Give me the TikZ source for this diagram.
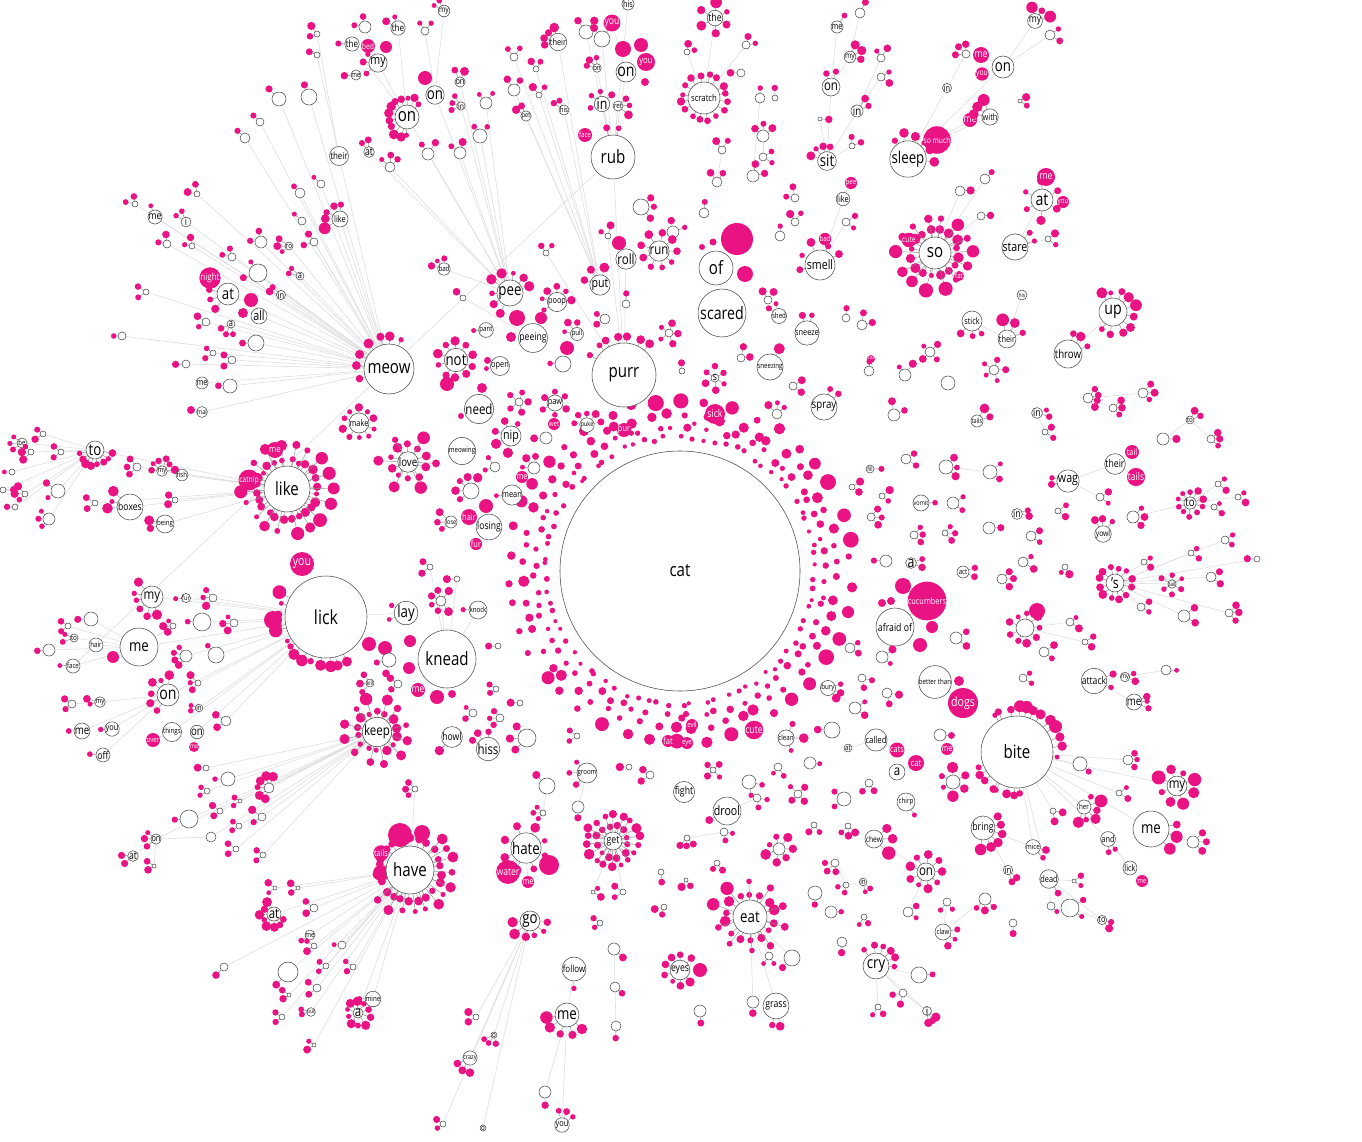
\documentclass[tikz,border=0pt]{standalone}
\usepackage{fontspec}
\setmainfont[FakeStretch=0.82]{Open Sans}
\definecolor{mag}{HTML}{EA1384}
\pgfdeclarelayer{bg}
\pgfsetlayers{bg,main}
\tikzset{
  w/.style={circle,draw=black!70,fill=white,line width=0.55pt,inner sep=0pt,text=black},
  mg/.style={circle,fill=mag,inner sep=0pt,text=white},
  ln/.style={draw=black!13,line width=0.6pt},
  sp/.style={draw=black!45,line width=0.45pt},
}
\newcommand\clus[7]{\ifnum#4>0 \foreach \k in {1,...,#4}{%
  \pgfmathsetmacro\qr{2.4+rnd*(#5-2.4)}%
  \pgfmathsetmacro\qa{#6+((\k-0.5)/#4-0.5)*#7+rnd*8-4}%
  \pgfmathsetmacro\qd{#3+\qr+1+rnd*3}%
  \draw[sp] (#1,#2) -- ++(\qa:\qd);%
  \fill[mag] (#1,#2) ++(\qa:\qd) circle (\qr);}\fi}
\newcommand\fsz[1]{\pgfmathsetmacro\qf{(#1<=7.5)?(#1*1.5):((#1<12)?(#1*1.18):(#1*1.08))}}
\newcommand\W[6]{\fsz{#6}\node[w,minimum size=#4*2pt,font=\fontsize{\qf}{\qf}\selectfont] (#1) at (#2,#3) {#5};}
\newcommand\M[6]{\fsz{#6}\node[mg,minimum size=#4*2pt,font=\fontsize{\qf}{\qf}\selectfont] (#1) at (#2,#3) {#5};}
\newcommand\D[3]{\fill[mag] (#1,#2) circle (#3);}
\newcommand\GG[7]{\clus{#1}{#2}{#3}{#4}{#5}{#6}{#7}\node[w,minimum size=#3*2pt] (g#1-#2) at (#1,#2) {};}
\newcommand\G[5]{\GG{#1}{#2}{#3}{#4}{4.2}{#5}{140}}
\begin{document}
\begin{tikzpicture}[x=1pt,y=-1pt]
\useasboundingbox (0,0) rectangle (1362,1142);
\pgfmathsetseed{11}
% ---------- ring around cat
\foreach \R/\s/\n/\j/\v in {132/2.5/74/0/0.4, 143/3.2/66/2/0.6, 155/4.2/56/1/0.7, 169/5.6/42/3/0.9}{
  \foreach \k in {1,...,\n}{
    \pgfmathsetmacro\qa{\k/\n*360+\j+rnd*4}
    \pgfmathsetmacro\qr{\s*(1-\v/2+\v*rnd)}
    \pgfmathsetmacro\qd{\R+rnd*5}
    \fill[mag] (680,571) ++(\qa:\qd) circle (\qr);}}
\W{cat}{680}{571}{120}{cat}{17}
\M{sick}{715}{414}{10}{sick}{9}
\M{pur}{624}{430}{7}{pur}{6}
\M{evil}{692}{725}{6}{evil}{5}
\M{eye}{687}{743}{6}{eye}{5}
\M{fatb}{668}{741}{6}{fat}{6}
\M{cuteb}{754}{730}{8}{cute}{7}
% ---------- upper left (meow subtree)
\G{279}{99}{7}{1}{225}
\G{309}{97}{8}{1}{250}
\G{260}{122}{4}{1}{225}
\G{245}{138}{5}{1}{225}
\G{317}{34}{3}{2}{200}
\G{317}{55}{3}{1}{200}
\W{theirA}{339}{156}{9}{their}{6.5}
\G{321}{184}{4}{1}{225}
\G{300}{193}{5}{1}{225}
\clus{340}{219}{9}{5}{6}{210}{160}\W{likeA}{340}{219}{8}{like}{6}
\G{302}{221}{4}{1}{225}
\G{314}{242}{4}{2}{200}
\clus{289}{246}{5}{3}{4}{180}{120}\W{roA}{289}{246}{4}{ro}{5}
\clus{300}{276}{5}{2}{4.5}{210}{60}\W{aA}{300}{276}{4}{a}{6}
\clus{281}{295}{5}{2}{4}{210}{60}\W{inA}{281}{295}{4}{in}{6}
\G{261}{242}{6}{2}{225}
\G{258}{273}{9}{2}{200}
\M{night}{210}{278}{10}{night}{6.5}
\clus{228}{294}{12}{3}{5}{160}{100}\W{atA}{228}{294}{11}{at}{15}
\D{251}{300}{7}\D{243}{313}{5}
\W{all}{259}{316}{8}{all}{11}
\clus{231}{324}{5}{3}{3.5}{120}{120}\W{aB}{231}{324}{4}{a}{6}
\G{256}{343}{8}{1}{180}
\G{206}{322}{4}{2}{180}
\G{167}{244}{4}{2}{225}
\G{192}{246}{3}{2}{225}
\G{232}{257}{4}{2}{225}
\G{146}{292}{3}{2}{180}
\G{122}{336}{4}{1}{180}
\G{186}{364}{4}{1}{180}
\G{213}{353}{3}{2}{180}
\G{232}{360}{4}{2}{180}
\G{197}{194}{3}{2}{225}
\G{135}{204}{3}{2}{225}
\clus{155}{217}{8}{1}{3}{250}{0}\W{meA}{155}{217}{7}{me}{7}
\clus{186}{222}{6}{2}{4}{230}{80}\W{iA}{186}{222}{5}{i}{9}
% ---------- top (pee / put / rub)
\clus{444}{11}{6}{2}{3.5}{230}{70}\W{myA}{444}{11}{5}{my}{5.5}
\G{365}{27}{6}{2}{225}
\clus{398}{28}{8}{2}{6}{230}{80}\W{theA}{398}{28}{7}{the}{6.5}
\G{425}{31}{4}{2}{270}
\clus{352}{44}{8}{1}{5}{180}{0}\W{theB}{352}{44}{7}{the}{6.5}
\M{bed}{368}{46}{7}{bed}{5.5}
\D{386}{47}{6}
\clus{378}{63}{9}{3}{4}{180}{120}\W{myB}{378}{63}{8}{my}{11}
\clus{356}{75}{6}{1}{4}{180}{0}\W{meB}{356}{75}{5}{me}{5}
\D{425}{78}{7}
\W{onB}{435}{95}{9}{on}{15}
\clus{460}{82}{6}{2}{6}{270}{80}\W{onC}{460}{82}{5}{on}{6}
\clus{461}{106}{5}{3}{3.5}{200}{120}\W{inB}{461}{106}{4}{in}{5.5}
\clus{407}{117}{13}{12}{5}{200}{240}\W{onA}{407}{117}{12}{on}{17}
\clus{369}{152}{6}{2}{4.5}{250}{80}\W{atB}{369}{152}{5}{at}{9}
\G{390}{167}{5}{3}{270}
\G{428}{154}{6}{2}{270}
\G{460}{153}{6}{2}{250}
\G{486}{103}{6}{2}{270}
\G{480}{136}{7}{2}{270}
\G{514}{90}{6}{2}{270}
\G{514}{57}{4}{2}{270}
\G{536}{69}{3}{2}{270}
\G{539}{95}{3}{2}{270}
\clus{526}{116}{5}{2}{4.5}{230}{80}\W{pet}{526}{116}{4}{pet}{4.5}
\clus{564}{110}{6}{2}{4}{230}{60}\W{hisA}{564}{110}{5}{his}{5}
\clus{558}{42}{8}{4}{7}{210}{120}\W{theirB}{558}{42}{7}{their}{6}
\G{586}{32}{7}{2}{270}
\G{602}{39}{8}{2}{270}
\M{youA}{612}{23}{8}{you}{7}
\M{youB}{646}{62}{9}{you}{8}
\D{623}{49}{8}\D{641}{45}{7}\D{645}{82}{4}
\W{onD}{626}{72}{10}{on}{16}
\clus{597}{68}{5}{3}{4}{230}{120}\W{onE}{597}{68}{4}{on}{5}
\clus{602}{104}{7}{4}{5}{240}{200}\W{inC}{602}{104}{6}{in}{14}
\clus{618}{106}{6}{3}{5}{0}{120}\W{ret}{618}{106}{5}{ret}{5}
\M{face}{585}{135}{7}{face}{5}
\clus{613}{157}{23}{2}{4.5}{270}{40}\W{rub}{613}{157}{22}{rub}{17}
\W{hisB}{628}{4}{6}{his}{6}
\G{641}{207}{8}{3}{0}
\G{673}{232}{6}{2}{300}
\D{619}{243}{7}
\W{roll}{626}{259}{9}{roll}{13}
\clus{659}{251}{11}{9}{4.5}{0}{360}\W{run}{659}{251}{10}{run}{13}
\G{608}{236}{3}{2}{250}
\G{546}{253}{3}{2}{270}
\clus{444}{269}{6}{3}{4}{230}{120}\W{badA}{444}{269}{5}{bad}{5}
\G{463}{298}{3}{1}{225}
\clus{510}{293}{14}{8}{5.5}{230}{260}\W{pee}{510}{293}{13}{pee}{15}
\clus{557}{302}{9}{6}{4.5}{250}{240}\W{poop}{557}{302}{8}{poop}{6}
\clus{600}{285}{10}{3}{5}{240}{120}\W{put}{600}{285}{9}{put}{12}
\G{626}{304}{4}{1}{270}
\G{605}{319}{5}{2}{180}
\clus{486}{330}{7}{1}{4}{180}{0}\W{pant}{486}{330}{6}{pant}{5}
\D{517}{318}{8}\D{541}{318}{6}\D{511}{337}{5}
\W{peeing}{533}{338}{12}{peeing}{7}
\clus{577}{334}{7}{3}{4}{230}{130}\W{pull}{577}{334}{6}{pull}{5}
\D{567}{348}{7}
\G{563}{364}{8}{1}{180}
\clus{500}{366}{8}{2}{4}{190}{70}\W{open}{500}{366}{7}{open}{6}
\clus{456}{360}{12}{10}{5}{0}{360}\W{not}{456}{360}{11}{not}{15}
\clus{389}{369}{26}{7}{5}{230}{150}\W{meow}{389}{369}{25}{meow}{17}
\clus{624}{375}{33}{7}{4.5}{260}{110}\W{purr}{624}{375}{32}{purr}{17}
\GG{669}{333}{4}{5}{4}{0}{360}
\G{682}{371}{3}{1}{270}
% ---------- near need / nip
\D{447}{384}{7}\D{482}{388}{5}\D{461}{416}{3}
\W{need}{479}{409}{13}{need}{13}
\clus{555}{403}{7}{6}{4.5}{0}{360}\W{paw}{555}{403}{7}{paw}{6}
\GG{519}{402}{4}{5}{4}{0}{360}
\M{wet}{554}{424}{6}{wet}{5}
\clus{587}{425}{7}{5}{4}{270}{200}\W{puke}{587}{425}{6}{puke}{4.5}
\clus{511}{436}{9}{5}{6}{200}{240}\W{nip}{511}{436}{8}{nip}{11}
\G{546}{438}{6}{1}{180}
\W{meowing}{462}{451}{13}{meowing}{5}
\G{495}{467}{5}{2}{200}
\G{534}{468}{6}{3}{230}
\M{meC}{522}{477}{6}{me}{6}
\GG{471}{491}{8}{5}{5}{220}{200}
\clus{512}{495}{11}{1}{3.5}{180}{0}\W{mean}{512}{495}{10}{mean}{6}
\clus{451}{522}{7}{3}{4.5}{180}{120}\W{lose}{451}{522}{6}{lose}{4.5}
\D{486}{506}{7}
\M{hairA}{469}{517}{8}{hair}{6}
\W{losing}{489}{527}{11}{losing}{7}
\M{furA}{476}{544}{6}{fur}{6}
\clus{359}{423}{10}{10}{4.5}{0}{360}\W{make}{359}{423}{9}{make}{6}
\clus{408}{462}{11}{10}{5}{0}{360}\clus{408}{462}{21}{6}{6.5}{30}{360}\W{love}{408}{462}{10}{love}{10}
\G{430}{567}{3}{2}{180}
\G{457}{579}{3}{1}{180}
\GG{441}{601}{5}{6}{4.5}{180}{300}
% ---------- top middle / right
\clus{715}{18}{8}{6}{6}{0}{360}\W{theC}{715}{18}{7}{the}{9}
\clus{704}{98}{17}{16}{4.5}{0}{360}\W{scratch}{704}{98}{16}{scratch}{8}
\G{687}{52}{3}{2}{315}
\G{746}{45}{4}{2}{315}
\G{741}{73}{4}{1}{180}
\G{760}{98}{5}{1}{270}
\G{775}{98}{3}{1}{270}
\G{763}{136}{6}{3}{270}
\G{763}{157}{4}{2}{0}
\G{753}{176}{6}{2}{315}
\G{722}{150}{4}{2}{270}
\G{717}{182}{5}{2}{270}
\G{704}{213}{5}{1}{270}
\clus{837}{27}{7}{1}{3}{300}{0}\W{meD}{837}{27}{6}{me}{6}
\G{860}{13}{5}{1}{300}
\clus{850}{57}{6}{3}{5}{330}{120}\W{myC}{850}{57}{5}{my}{5.5}
\clus{831}{87}{10}{2}{5.5}{270}{70}\W{onF}{831}{87}{9}{on}{13}
\clus{857}{111}{7}{2}{5}{320}{60}\W{inD}{857}{111}{6}{in}{10}
\G{820}{119}{2}{1}{0}
\clus{827}{161}{10}{4}{4.5}{240}{120}\W{sit}{827}{161}{9}{sit}{15}
\G{852}{146}{3}{2}{300}
\G{881}{58}{4}{2}{270}
\G{881}{77}{4}{2}{0}
\W{likeB}{843}{199}{6}{like}{6}
\M{peeB}{851}{183}{6}{pee}{5}
\G{795}{198}{4}{2}{225}
\G{795}{222}{4}{2}{270}
\G{780}{236}{5}{1}{270}
\clus{820}{265}{16}{5}{5}{250}{200}\W{smell}{820}{265}{15}{smell}{12}
\M{badB}{825}{239}{6}{bad}{5}
\G{846}{222}{4}{2}{0}
\clus{908}{159}{18}{6}{5}{300}{160}\W{sleep}{908}{159}{17}{sleep}{15}
\M{somuch}{937}{140}{13}{so much}{5.5}
\M{meE}{970}{120}{7}{me}{7}
\clus{990}{117}{9}{3}{6}{220}{100}\W{with}{990}{117}{8}{with}{6}
\W{inE}{947}{88}{4}{in}{6}
\G{966}{54}{4}{3}{225}
\M{meF}{981}{55}{8}{me}{9}
\M{youC}{982}{74}{6}{you}{5.5}
\W{onG}{1003}{67}{11}{on}{15}
\clus{1035}{21}{7}{3}{6}{300}{120}\W{myD}{1035}{21}{6}{my}{7}
\G{1050}{35}{5}{2}{0}
\G{985}{179}{5}{1}{315}
\G{960}{191}{5}{1}{0}
\G{981}{216}{4}{1}{0}
\clus{935}{253}{17}{16}{5.5}{0}{360}\clus{935}{253}{29}{14}{7.5}{12}{360}\W{so}{935}{253}{16}{so}{17}
\M{cute}{909}{240}{7}{cute}{5.5}
\M{fat}{959}{276}{5}{fat}{5}
\clus{1015}{247}{14}{2}{4}{330}{60}\W{stare}{1015}{247}{13}{stare}{12}
\G{1048}{239}{3}{2}{0}
\clus{1042}{200}{12}{6}{5}{0}{360}\W{atC}{1042}{200}{11}{at}{16}
\M{meG}{1046}{177}{9}{me}{9}
\M{youD}{1063}{202}{6}{you}{5}
\G{1020}{101}{2}{2}{0}
\D{737}{239}{16}\D{745}{274}{8}\D{713}{242}{3.5}\D{702}{247}{3}
\W{of}{716}{268}{17}{of}{17}
\W{scared}{722}{313}{24}{scared}{16}
\clus{779}{316}{8}{2}{5}{240}{80}\W{shed}{779}{316}{7}{shed}{5}
\clus{807}{333}{12}{2}{4}{270}{60}\W{sneeze}{807}{333}{11}{sneeze}{6}
\clus{770}{367}{14}{1}{6}{300}{0}\W{sneezing}{770}{367}{13}{sneezing}{5}
\G{741}{358}{4}{2}{315}
\G{768}{300}{4}{2}{270}
\G{846}{318}{4}{1}{270}
\G{862}{325}{5}{2}{315}
\M{upA}{871}{359}{4}{up}{4}
\G{869}{371}{5}{1}{270}
\clus{972}{321}{11}{3}{4}{90}{120}\W{stick}{972}{321}{10}{stick}{6}
\clus{1007}{339}{10}{3}{7}{300}{120}\W{theirC}{1007}{339}{9}{their}{6}
\W{hisC}{1022}{295}{5}{his}{4}
\clus{715}{378}{5}{6}{4}{0}{360}\W{sA}{715}{378}{4}{s}{9}
\GG{930}{352}{5}{4}{4}{0}{360}
\GG{994}{370}{5}{5}{4}{0}{360}
\G{948}{383}{7}{0}{0}
\G{905}{375}{6}{2}{270}
\clus{1113}{312}{15}{10}{6}{0}{270}\W{upB}{1113}{312}{14}{up}{16}
\clus{1068}{354}{15}{3}{5}{310}{80}\W{throw}{1068}{354}{14}{throw}{10}
% ---------- right middle
\clus{824}{407}{14}{2}{4}{300}{60}\W{spray}{824}{407}{13}{spray}{10}
\G{777}{414}{5}{3}{270}
\G{793}{386}{4}{2}{0}
\G{894}{415}{6}{2}{300}
\clus{977}{421}{7}{2}{6}{320}{80}\W{tailsA}{977}{421}{6}{tails}{4.5}
\G{946}{467}{7}{3}{0}
\G{990}{472}{7}{2}{0}
\G{906}{459}{5}{2}{0}
\clus{870}{469}{5}{1}{3.5}{0}{0}\W{fill}{870}{469}{4}{fill}{4}
\G{852}{487}{3}{2}{0}
\G{882}{496}{3}{2}{0}
\clus{921}{503}{9}{1}{4.5}{0}{0}\W{vomit}{921}{503}{8}{vomit}{4.5}
\G{953}{503}{6}{2}{0}
\G{871}{517}{4}{3}{0}
\G{914}{535}{4}{3}{0}
\G{945}{533}{3}{3}{0}
\G{989}{528}{6}{1}{0}
\G{886}{561}{6}{1}{180}
\clus{911}{563}{6}{2}{4}{0}{80}\W{aC}{911}{563}{5}{a}{14}
\D{903}{586}{8}\D{882}{603}{4}\D{891}{601}{4}\D{932}{627}{6}\D{920}{645}{7}
\M{cucumbers}{927}{601}{17}{cucumbers}{6}
\W{afraid}{895}{627}{19}{afraid of}{9}
\clus{963}{572}{7}{2}{4}{0}{80}\W{act}{963}{572}{6}{act}{5}
\G{1002}{579}{5}{3}{0}
\D{1037}{611}{8}
\GG{1025}{628}{9}{9}{5}{0}{360}
\G{956}{638}{6}{2}{0}
\G{850}{648}{5}{2}{0}
\G{882}{657}{6}{2}{0}
\G{862}{678}{4}{2}{45}
\G{887}{693}{5}{2}{45}
\D{959}{681}{5}
\W{better}{935}{682}{15}{better than}{5}
\M{dogs}{963}{703}{15}{dogs}{12}
\clus{828}{688}{7}{3}{4.5}{20}{100}\W{bury}{828}{688}{6}{bury}{5}
\G{855}{708}{6}{2}{0}
\G{832}{730}{8}{1}{180}
\clus{786}{738}{9}{3}{5}{0}{200}\W{clean}{786}{738}{8}{clean}{5}
\W{called}{876}{740}{11}{called}{8}
\M{cats}{897}{750}{7}{cats}{6}
\M{meH}{947}{749}{6}{me}{6}
\G{940}{735}{6}{1}{0}
\W{atD}{848}{748}{4}{at}{5}
\clus{1017}{752}{37}{12}{6.5}{300}{140}\clus{1017}{752}{37}{8}{5}{120}{80}\W{bite}{1017}{752}{36}{bite}{17}
\G{1088}{398}{5}{4}{0}
\G{1143}{393}{5}{3}{0}
\G{1113}{408}{4}{3}{0}
\clus{1037}{413}{6}{2}{4}{0}{80}\W{inF}{1037}{413}{5}{in}{9}
\G{1045}{432}{3}{2}{0}
\G{1163}{439}{6}{1}{0}
\clus{1190}{420}{5}{2}{4}{320}{80}\W{toB}{1190}{420}{4}{to}{5}
\G{1211}{439}{4}{3}{0}
\W{theirD}{1115}{464}{10}{their}{9}
\M{tail}{1132}{452}{7}{tail}{6}
\M{tailsB}{1136}{477}{9}{tails}{7}
\clus{1068}{481}{12}{2}{4}{180}{60}\W{wag}{1068}{481}{11}{wag}{11}
\G{1100}{497}{4}{2}{0}
\clus{1017}{513}{5}{2}{4}{0}{60}\W{inG}{1017}{514}{4}{in}{9}
\G{1058}{511}{3}{2}{0}
\clus{1190}{503}{7}{10}{4}{0}{360}\W{toC}{1190}{503}{6}{to}{10}
\G{1133}{517}{6}{3}{0}
\G{1218}{484}{3}{2}{0}
\G{1238}{497}{3}{2}{0}
\G{1214}{507}{3}{2}{0}
\clus{1103}{534}{9}{3}{5}{270}{100}\W{yowl}{1103}{534}{8}{yowl}{5.5}
\G{1031}{536}{5}{2}{0}
\G{1023}{562}{5}{2}{0}
\G{1065}{567}{3}{2}{90}
\clus{1115}{583}{10}{12}{4.5}{0}{360}\W{sB}{1115}{583}{9}{'s}{14}
\G{1144}{562}{3}{2}{0}
\G{1191}{553}{3}{2}{0}
\G{1225}{540}{4}{2}{0}
\G{1257}{559}{3}{1}{180}
\clus{1172}{584}{5}{6}{4}{0}{360}\W{tailB}{1172}{584}{4}{tail}{4}
\G{1211}{577}{5}{2}{0}
\G{1141}{607}{4}{2}{0}
\G{1184}{616}{6}{2}{0}
\G{1229}{613}{4}{3}{0}
\G{1070}{622}{4}{2}{0}
\G{1085}{642}{3}{2}{0}
\G{1044}{652}{5}{2}{0}
\clus{1094}{681}{13}{2}{5}{0}{70}\W{attack}{1094}{681}{12}{attack}{7}
\clus{1125}{677}{5}{2}{4}{0}{80}\W{myE}{1125}{677}{4}{my}{4.5}
\G{1166}{670}{5}{1}{0}
\clus{1134}{702}{9}{3}{4}{0}{80}\W{meI}{1134}{702}{8}{me}{10}
\G{1023}{678}{4}{2}{0}
% ---------- left (like, lick)
\clus{287}{489}{24}{24}{5}{0}{360}\clus{287}{489}{37}{18}{7}{10}{360}\W{likeC}{287}{489}{23}{like}{17}
\M{catnip}{249}{480}{10}{catnip}{5.5}
\M{meJ}{275}{450}{8}{me}{8}
\clus{95}{450}{10}{8}{5}{90}{180}\W{toA}{95}{450}{9}{to}{15}
\clus{22}{443}{6}{3}{4}{180}{100}\W{be}{22}{443}{5}{be}{5}
\G{43}{434}{3}{2}{180}
\G{61}{452}{3}{2}{180}
\G{31}{452}{3}{3}{180}
\G{12}{472}{3}{1}{180}
\G{25}{494}{3}{3}{180}
\G{3}{490}{3}{1}{0}
\G{15}{507}{3}{1}{180}
\G{58}{491}{7}{2}{180}
\G{49}{519}{6}{3}{180}
\clus{162}{471}{6}{6}{5}{270}{200}\W{myF}{162}{471}{5}{my}{5}
\W{fish}{182}{475}{5}{fish}{5}
\G{137}{467}{4}{3}{180}
\G{95}{503}{3}{2}{180}
\clus{130}{507}{14}{3}{5.5}{200}{60}\W{boxes}{130}{507}{13}{boxes}{7}
\G{175}{500}{3}{2}{180}
\clus{165}{524}{10}{2}{6}{180}{60}\W{being}{165}{524}{9}{being}{5}
\W{mai}{202}{412}{5}{mai}{4.5}
\D{191}{410}{4}
\W{meK}{202}{383}{6}{me}{6}
\G{230}{386}{7}{1}{180}
\M{youE}{302}{564}{12}{you}{12}
\clus{326}{617}{42}{14}{7}{135}{150}\W{lick}{326}{617}{41}{lick}{18}
\D{273}{620}{9}
\clus{152}{597}{12}{6}{5.5}{150}{180}\W{myG}{152}{597}{11}{my}{13}
\clus{186}{598}{5}{1}{3}{180}{0}\W{furB}{186}{598}{4}{fur}{4.5}
\G{213}{598}{4}{3}{180}
\G{91}{619}{7}{1}{180}
\G{68}{626}{3}{2}{180}
\clus{74}{638}{5}{2}{3.5}{180}{80}\W{toD}{74}{638}{4}{to}{5}
\W{hairB}{96}{645}{7}{hair}{5}
\G{49}{650}{6}{1}{180}
\clus{73}{666}{8}{1}{3.5}{180}{0}\W{face}{73}{666}{7}{face}{5}
\D{113}{657}{6}
\W{meL}{139}{647}{19}{me}{15}
\G{202}{622}{9}{1}{180}
\G{173}{626}{3}{3}{180}
\G{234}{623}{4}{3}{180}
\G{186}{656}{6}{4}{180}
\G{216}{655}{8}{1}{225}
\clus{168}{695}{12}{6}{5}{200}{180}\W{onH}{168}{695}{11}{on}{16}
\clus{100}{702}{6}{2}{4}{180}{60}\W{myH}{100}{702}{5}{my}{5}
\G{72}{704}{4}{2}{180}
\G{198}{683}{3}{3}{180}
\clus{199}{708}{4}{2}{3.5}{180}{60}\W{inH}{199}{708}{3}{in}{5}
\G{226}{721}{5}{2}{180}
\clus{82}{731}{9}{1}{3}{180}{0}\W{meM}{82}{731}{8}{me}{10}
\clus{112}{729}{7}{1}{3}{180}{0}\W{youF}{112}{729}{6}{you}{6}
\W{things}{172}{732}{9}{things}{5}
\M{over}{153}{740}{7}{over}{5}
\W{onI}{197}{732}{6}{on}{10}
\M{meN}{194}{747}{5}{me}{4.5}
\clus{103}{755}{8}{1}{5}{180}{0}\W{off}{103}{755}{7}{off}{9}
% ---------- lower left (keep / have)
\G{206}{768}{3}{1}{180}
\G{228}{779}{7}{1}{180}
\GG{269}{788}{5}{6}{5}{200}{220}
\G{207}{791}{3}{2}{180}
\G{240}{801}{2}{2}{180}
\G{220}{811}{3}{2}{180}
\G{189}{819}{9}{1}{180}
\G{262}{817}{4}{2}{180}
\G{239}{826}{3}{2}{180}
\clus{156}{839}{6}{3}{5.5}{180}{110}\W{onJ}{156}{839}{5}{on}{6}
\G{211}{837}{5}{0}{0}
\clus{133}{856}{6}{2}{6}{160}{80}\W{atE}{133}{856}{5}{at}{9}
\G{154}{866}{2}{2}{180}
\G{236}{849}{3}{2}{180}
\G{263}{855}{3}{2}{180}
\G{275}{888}{2}{2}{180}
\G{298}{888}{2}{2}{180}
\G{314}{908}{4}{2}{180}
\clus{274}{914}{6}{8}{5}{135}{240}\W{atF}{274}{914}{6}{at}{13}
\clus{310}{935}{6}{1}{3.5}{150}{0}\W{meO}{310}{935}{5}{me}{5}
\G{314}{946}{3}{2}{180}
\G{326}{966}{3}{2}{180}
\G{288}{972}{10}{1}{135}
\G{224}{967}{4}{1}{135}
\G{317}{988}{4}{2}{180}
\G{289}{995}{2}{2}{180}
\clus{311}{1012}{5}{2}{3}{180}{60}\W{out}{311}{1012}{4}{out}{4}
\G{282}{1017}{3}{2}{180}
\G{314}{1045}{2}{2}{180}
\clus{377}{732}{14}{14}{5}{0}{360}\clus{377}{732}{25}{12}{6.5}{0}{360}\W{keep}{377}{732}{13}{keep}{13}
\D{369}{644}{7}\D{385}{648}{7}\D{410}{641}{6}\D{409}{668}{6}\D{437}{697}{7}\D{452}{694}{4}
\W{knead}{447}{659}{29}{knead}{17}
\M{meP}{418}{690}{7}{me}{7}
\clus{406}{613}{12}{2}{4}{180}{100}\W{lay}{406}{613}{11}{lay}{15}
\clus{478}{610}{10}{1}{4.5}{180}{0}\W{knock}{478}{610}{9}{knock}{5}
\G{389}{660}{7}{2}{135}
\G{398}{684}{4}{2}{180}
\clus{370}{683}{5}{3}{4}{180}{150}\W{kill}{370}{683}{4}{kill}{4}
\G{498}{646}{3}{1}{180}
\clus{452}{737}{10}{1}{5}{135}{0}\W{howl}{452}{737}{9}{howl}{7}
\clus{488}{749}{12}{3}{4}{240}{100}\W{hiss}{488}{749}{11}{hiss}{13}
\G{527}{738}{9}{3}{180}
\G{500}{718}{4}{3}{180}
\G{473}{713}{4}{2}{180}
\G{496}{689}{3}{2}{180}
\G{520}{703}{3}{1}{180}
\G{577}{736}{3}{2}{180}
\clus{410}{870}{25}{22}{5}{0}{360}\clus{410}{870}{37}{12}{5.5}{45}{200}
\D{400}{835}{12}\D{422}{833}{8}\D{381}{873}{8}
\W{have}{410}{870}{24}{have}{17}
\M{tailsC}{381}{853}{7}{tails}{6}
\G{415}{789}{3}{3}{180}
\clus{373}{999}{8}{1}{6}{180}{0}\W{mine}{373}{999}{7}{mine}{5}
\clus{358}{1013}{6}{10}{5}{0}{360}\W{aD}{358}{1013}{5}{a}{13}
\G{342}{945}{4}{1}{180}
\G{353}{967}{3}{2}{180}
% ---------- bottom middle
\G{547}{786}{8}{1}{225}
\clus{587}{773}{11}{3}{5}{180}{140}\W{groom}{587}{773}{10}{groom}{5}
\G{578}{807}{6}{1}{90}
\G{543}{813}{3}{3}{180}
\G{629}{767}{3}{1}{180}
\G{650}{775}{4}{2}{180}
\W{fight}{684}{792}{10}{fight}{9}
\clus{526}{848}{16}{8}{5.5}{0}{360}\D{549}{865}{10}\W{hate}{526}{848}{15}{hate}{15}
\M{water}{508}{872}{11}{water}{7}
\M{meQ}{528}{882}{6}{me}{6}
\clus{613}{841}{10}{12}{4}{0}{360}\clus{613}{841}{20}{18}{5.5}{0}{360}\W{get}{613}{841}{9}{get}{9}
\G{593}{892}{2}{2}{0}
\G{623}{892}{3}{2}{180}
\G{661}{872}{3}{1}{90}
\G{664}{907}{3}{2}{135}
\G{600}{923}{3}{2}{180}
\clus{530}{921}{11}{6}{5.5}{90}{200}\W{go}{530}{921}{10}{go}{15}
\clus{574}{969}{13}{1}{3.5}{90}{0}\W{follow}{574}{969}{12}{follow}{6.5}
\clus{567}{1015}{13}{5}{6.5}{110}{160}\W{meR}{567}{1015}{12}{me}{15}
\G{614}{949}{6}{1}{45}
\G{615}{987}{5}{1}{45}
\G{616}{1026}{5}{1}{90}
\clus{470}{1058}{8}{3}{6}{120}{100}\W{crazy}{470}{1058}{7}{crazy}{4.5}
\clus{494}{1035}{4}{3}{4}{120}{120}\W{oA}{494}{1035}{3}{o}{5}
\G{476}{1017}{3}{2}{180}
\G{545}{1092}{6}{1}{90}
\clus{562}{1125}{8}{3}{5}{290}{100}\W{youG}{562}{1125}{7}{you}{6}
\G{443}{1124}{3}{2}{180}
\W{oB}{483}{1128}{3}{o}{5}
\GG{713}{770}{3}{4}{4}{0}{360}
\G{778}{767}{4}{2}{90}
\G{810}{763}{6}{1}{0}
\G{749}{782}{7}{2}{45}
\W{aE}{897}{772}{8}{a}{13}
\M{catB}{916}{763}{8}{cat}{8}
\G{869}{783}{4}{2}{90}
\GG{953}{782}{7}{6}{6}{0}{360}
\clus{727}{811}{14}{1}{5}{150}{0}\W{drool}{727}{811}{13}{drool}{11}
\G{757}{798}{4}{2}{45}
\GG{798}{794}{4}{4}{4}{0}{360}
\G{844}{799}{7}{2}{180}
\clus{906}{802}{10}{1}{3.5}{60}{0}\W{chirp}{906}{802}{9}{chirp}{5}
\G{724}{832}{4}{2}{45}
\G{687}{838}{3}{3}{90}
\GG{779}{849}{6}{7}{5.5}{0}{360}
\G{814}{825}{3}{2}{90}
\G{848}{826}{3}{3}{90}
\clus{874}{839}{10}{3}{7}{0}{120}\W{chew}{874}{839}{9}{chew}{5.5}
\clus{926}{872}{10}{9}{5}{0}{360}\W{onK}{926}{872}{9}{on}{13}
\G{717}{863}{3}{2}{90}
\G{686}{880}{2}{2}{90}
\G{835}{863}{4}{3}{135}
\G{846}{885}{3}{2}{135}
\clus{863}{882}{4}{2}{4}{60}{80}\W{inI}{863}{882}{3}{in}{5}
\clus{983}{828}{13}{6}{6.5}{30}{160}\W{bring}{983}{828}{12}{bring}{9}
\clus{1008}{870}{5}{2}{4}{60}{60}\W{inJ}{1008}{870}{4}{in}{8}
\clus{750}{917}{18}{14}{5.5}{0}{360}\clus{750}{917}{29}{10}{7}{0}{360}\W{eat}{750}{917}{17}{eat}{15}
\G{815}{893}{7}{1}{90}
\G{831}{912}{6}{1}{0}
\G{842}{942}{5}{1}{90}
\G{864}{917}{3}{2}{90}
\G{908}{912}{5}{2}{0}
\G{947}{902}{4}{2}{90}
\clus{943}{932}{9}{3}{6}{30}{130}\W{claw}{943}{932}{8}{claw}{5}
\G{985}{899}{6}{3}{90}
\G{1013}{923}{4}{1}{90}
\G{769}{956}{4}{2}{90}
\G{792}{958}{8}{1}{135}
\clus{876}{966}{14}{6}{4.5}{300}{150}\W{cry}{876}{966}{13}{cry}{15}
\G{919}{975}{8}{1}{0}
\G{903}{993}{4}{2}{135}
\G{878}{1007}{3}{2}{90}
\clus{927}{1011}{5}{3}{5}{60}{80}\W{iB}{927}{1011}{4}{i}{10}
\clus{776}{1006}{14}{2}{4.5}{90}{60}\W{grass}{776}{1006}{13}{grass}{9}
\G{753}{1002}{6}{1}{90}
\G{700}{1011}{6}{1}{90}
\clus{680}{970}{10}{8}{5}{180}{300}\D{700}{970}{7}\W{eyes}{680}{970}{9}{eyes}{7}
% ---------- lower right (bite subtree)
\clus{1177}{786}{10}{8}{7}{0}{360}\W{myI}{1177}{786}{9}{my}{13}
\clus{1151}{829}{19}{3}{7}{20}{90}\W{meS}{1151}{829}{18}{me}{15}
\G{1193}{842}{6}{3}{0}
\clus{1084}{807}{8}{6}{6.5}{30}{200}\W{her}{1084}{807}{7}{her}{5}
\G{1053}{811}{3}{2}{45}
\G{1119}{793}{3}{2}{0}
\clus{1108}{839}{8}{2}{4.5}{70}{70}\W{and}{1108}{839}{7}{and}{6}
\W{lickB}{1130}{868}{7}{lick}{6}
\M{meT}{1142}{881}{6}{me}{5}
\clus{1033}{847}{8}{2}{5}{30}{70}\W{mice}{1033}{847}{7}{mice}{5}
\clus{1049}{879}{10}{1}{4}{60}{0}\W{dead}{1049}{879}{9}{dead}{6}
\G{1074}{881}{2}{2}{0}
\G{1051}{906}{4}{1}{45}
\G{1070}{908}{9}{2}{0}
\clus{1102}{920}{5}{2}{4.5}{30}{80}\W{toE}{1102}{920}{4}{to}{6}
\G{1080}{764}{7}{1}{45}
\G{1128}{760}{5}{3}{0}
% ---------- connectors
\begin{pgfonlayer}{bg}
\foreach \a/\b in {meow/g279-99,meow/g309-97,meow/g260-122,meow/g245-138,meow/theirA,meow/g321-184,meow/g300-193,meow/likeA,meow/g302-221,meow/g314-242,meow/roA,meow/aA,meow/inA,meow/g261-242,meow/g258-273,meow/atA,meow/all,meow/aB,meow/g256-343,meow/g206-322,meow/meA,meow/iA,meow/g167-244,meow/g192-246,meow/g232-257,meow/g146-292,meow/g122-336,meow/g186-364,meow/g213-353,meow/g232-360,meow/g197-194,meow/g135-204,meow/meK,meow/mai,meow/g230-386,theirA/g317-55,theirA/g317-34,
pee/onA,pee/onB,pee/onC,pee/inB,pee/atB,pee/g390-167,pee/g428-154,pee/g460-153,pee/g480-136,pee/g486-103,pee/badA,onA/myB,onA/theB,onA/theA,myB/bed,myB/meB,myB/g365-27,onB/g425-31,onB/myA,
put/theirB,put/pet,put/hisA,put/g514-90,put/g514-57,put/g536-69,put/g539-95,purr/g546-253,purr/g608-236,peeing/g463-298,
rub/onD,rub/onE,rub/inC,rub/ret,rub/face,rub/hisB,rub/g586-32,rub/g602-39,onD/youA,onD/youB,purr/roll,purr/rub,
scratch/theC,scratch/g687-52,scratch/g746-45,scratch/g741-73,g763-136/g763-157,g753-176/g760-98,g717-182/g722-150,
sit/onF,sit/inD,onF/meD,onF/myC,inD/g881-77,inD/g881-58,myC/g860-13,sit/g820-119,sit/g852-146,
sleep/inE,sleep/somuch,somuch/meE,somuch/with,inE/g966-54,onG/meF,onG/youC,sleep/onG,onG/myD,onG/g1050-35,
smell/likeB,likeB/peeB,smell/badB,smell/g846-222,so/g985-179,so/g960-191,so/g981-216,stare/atC,stare/g1048-239,
upB/throw,stick/theirC,theirC/hisC,
likeC/toA,likeC/boxes,likeC/myF,likeC/fish,likeC/being,likeC/g137-467,likeC/g175-500,likeC/g95-503,
toA/be,toA/g43-434,toA/g61-452,toA/g31-452,toA/g12-472,toA/g25-494,toA/g3-490,toA/g15-507,toA/g58-491,toA/g49-519,
lick/myG,lick/meL,lick/onH,lick/things,lick/furB,lick/g213-598,lick/g202-622,lick/g234-623,lick/g186-656,lick/g216-655,lick/g198-683,lick/g226-721,lick/inH,lick/onI,
meL/hairB,meL/face,meL/toD,meL/g91-619,meL/g49-650,meL/g68-626,meL/g173-626,onH/myH,onH/meM,onH/youF,onH/off,myH/g72-704,things/over,onI/meN,
keep/g228-779,keep/g206-768,keep/g269-788,keep/g207-791,keep/g240-801,keep/g220-811,keep/g189-819,keep/g262-817,keep/g239-826,keep/onJ,keep/g211-837,keep/g236-849,keep/g263-855,onJ/atE,onJ/g154-866,g211-837/onJ,
have/atF,have/meO,have/mine,have/aD,have/g342-945,have/g353-967,have/g288-972,have/g224-967,have/g314-908,have/g275-888,have/g298-888,have/g314-946,have/g326-966,have/g317-988,have/g289-995,have/out,have/g282-1017,have/g314-1045,have/g415-789,
knead/g441-601,knead/g457-579,knead/g430-567,knead/knock,lick/lay,
go/crazy,go/oA,go/oB,go/g443-1124,go/g476-1017,follow/meR,meR/youG,meR/g545-1092,g614-949/g615-987,g615-987/g616-1026,
eat/grass,eat/g753-1002,eat/g792-958,eat/g769-956,cry/g919-975,cry/g903-993,cry/iB,cry/g878-1007,g903-993/iB,
bite/myI,bite/meS,bite/her,bite/and,bite/mice,bite/dead,bite/g1080-764,bite/g1128-760,bite/g1053-811,bite/g1119-793,meS/g1193-842,and/lickB,lickB/meT,dead/toE,dead/g1051-906,dead/g1070-908,dead/g1074-881,g1070-908/toE,
sB/g1144-562,sB/g1191-553,sB/g1225-540,sB/g1257-559,sB/tailB,sB/g1211-577,sB/g1141-607,sB/g1184-616,sB/g1229-613,
wag/theirD,wag/g1100-497,theirD/tail,theirD/tailsB,toC/g1133-517,toC/g1218-484,toC/g1238-497,toC/g1214-507,toB/g1163-439,toB/g1211-439,
attack/myE,attack/meI,myE/g1166-670,afraid/cucumbers,better/dogs,called/cats,aE/catB,called/atD,
hate/water,hate/meQ,get/g593-892,get/g623-892,groom/g578-807,g547-786/g543-813,
chew/onK,onK/g908-912,claw/g947-902,claw/g985-899,bring/inJ,bring/mice,g1025-628/g1070-622,g1025-628/g1085-642,g1025-628/g1044-652,
spray/g793-386,g946-467/g990-472,inF/g1045-432,g1088-398/g1143-393,g1088-398/g1113-408,
drool/g757-798,g724-832/g687-838,g835-863/g846-885,g846-885/inI,clean/g832-730,bury/g855-708}
  {\draw[ln] (\a) -- (\b);}
\end{pgfonlayer}
\end{tikzpicture}
\end{document}
